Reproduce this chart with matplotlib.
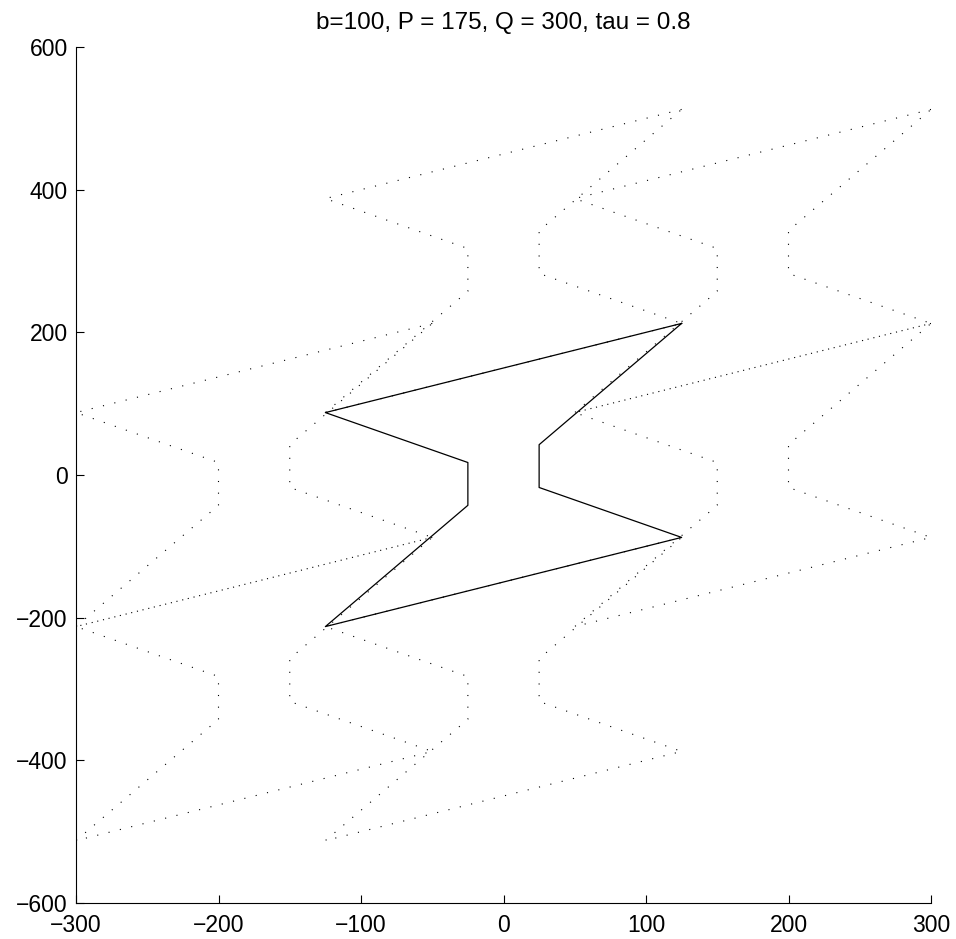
import matplotlib
matplotlib.use("Agg")
import matplotlib.pyplot as plt

plt.rcParams['font.family'] = ['Liberation Sans', 'DejaVu Sans']

# Outline of the base tile (closed polygon)
tile_x = [125, -125, -25, -25, -125, 125, 25, 25, 125]
tile_y = [212.5, 87.5, 17.5, -42.5, -212.5, -87.5, -17.5, 42.5, 212.5]

# Lattice translations of the neighbouring tiles
shift_x = [0, 0, 175, -175, 175, -175]
shift_y = [300, -300, 0, 0, 300, -300]

title = "b=100, P = 175, Q = 300, tau = 0.8"
xticks = [-300, -200, -100, 0, 100, 200, 300]
yticks = [-600, -400, -200, 0, 200, 400, 600]

fig = plt.figure(figsize=(9.56, 9.39), dpi=100)
ax = fig.add_axes([76 / 956, 36 / 939, 855 / 956, 856 / 939])

for dx, dy in zip(shift_x, shift_y):
    ax.plot([x + dx for x in tile_x], [y + dy for y in tile_y],
            color='black', linewidth=0.8, linestyle=(0, (1, 9.5)))

ax.plot(tile_x, tile_y, color='black', linewidth=0.9)

ax.set_xlim(-300, 300)
ax.set_ylim(-600, 600)
ax.set_xticks(xticks)
ax.set_yticks(yticks)
ax.tick_params(direction='in', length=6, width=0.8, labelsize=16.5)
ax.tick_params(axis='y', pad=6)
ax.tick_params(axis='x', pad=8)
ax.spines['top'].set_visible(False)
ax.spines['right'].set_visible(False)
for s in ('left', 'bottom'):
    ax.spines[s].set_linewidth(0.8)
ax.set_title(title, fontsize=17.5, pad=13)

fig.savefig("out.png", dpi=100)
